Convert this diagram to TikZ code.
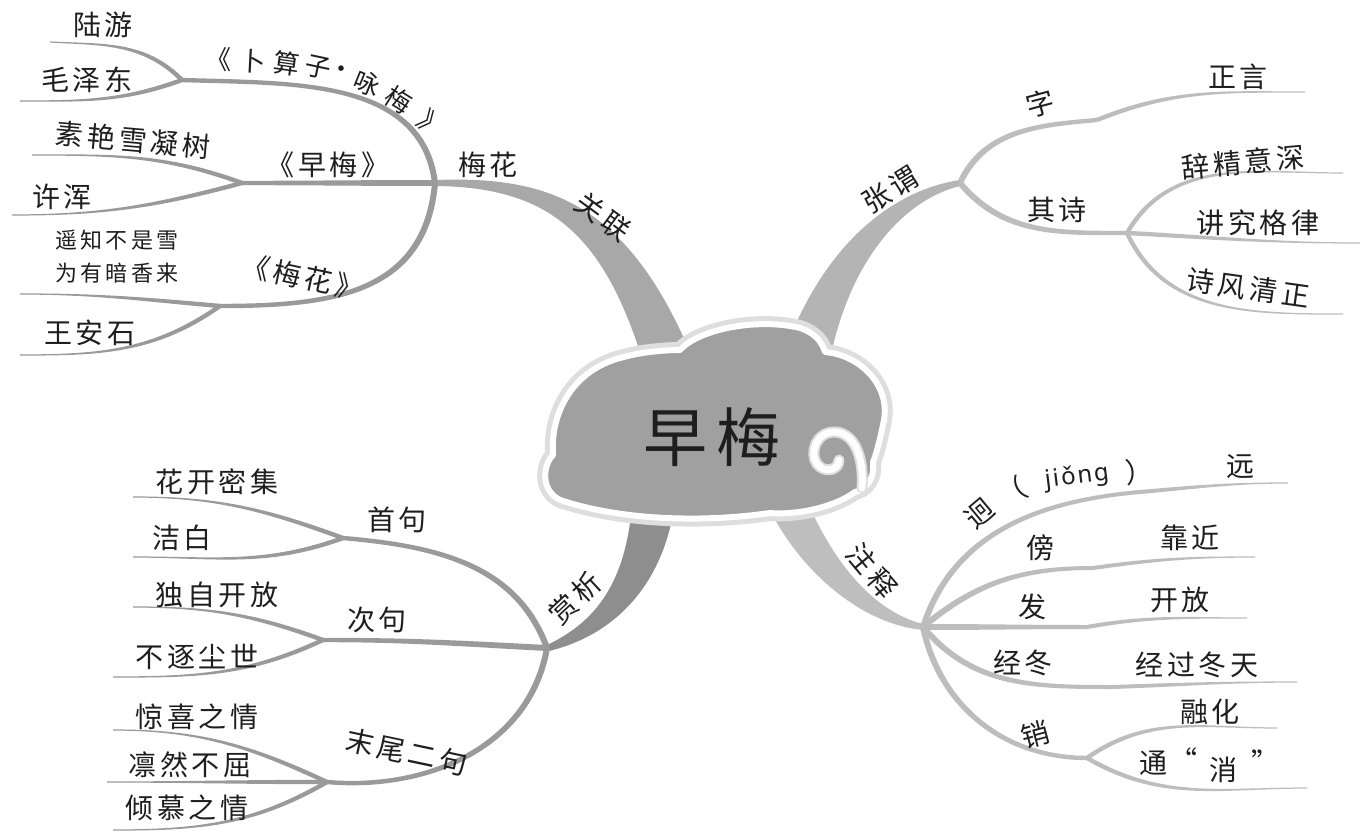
\documentclass[tikz,border=0pt]{standalone}
\usepackage{fontspec}
\setmainfont{Noto Sans CJK SC}[LetterSpace=14]
\newfontfamily\latinfont{Noto Sans}[LetterSpace=8]
\usetikzlibrary{calc}
\definecolor{lineL}{HTML}{9A9A9A}
\definecolor{lineR}{HTML}{BDBDBD}
\definecolor{brA}{HTML}{A8A8A8}
\definecolor{brB}{HTML}{B4B4B4}
\definecolor{brC}{HTML}{8E8E8E}
\definecolor{brD}{HTML}{BEBEBE}
\definecolor{cloudgray}{HTML}{A0A0A0}
\definecolor{halo}{HTML}{DEDEDE}
\definecolor{ink}{HTML}{1E1E1E}
% tapered twig: [style]{from}{to}{out}{in}{half width at from}{half width at to}
\newcommand\twig[7][lineL]{\fill[#1] ($(#2)+({#4+90}:#6pt)$) to[out=#4,in=#5] ($(#3)+({#5-90}:#7pt)$) -- ($(#3)+({#5+90}:#7pt)$) to[out=#5,in=#4] ($(#2)+({#4-90}:#6pt)$) -- cycle;}
\tikzset{
  lbl/.style={font=\fontsize{28}{30}\selectfont, text=ink, inner sep=0pt},
  lblt/.style={font=\fontsize{26}{28}\selectfont, text=ink, inner sep=0pt},
  lbls/.style={font=\fontsize{22}{24}\selectfont, text=ink, inner sep=0pt},
}
\begin{document}
\begin{tikzpicture}[x=1pt,y=1pt]
\useasboundingbox (0,0) rectangle (1363,-837);
\fill[white] (0,0) rectangle (1363,-837);

% ---------- coordinates ----------
\coordinate (hubMH) at (435,-183);
\coordinate (hubBS) at (182,-80);
\coordinate (hubZM) at (242,-183);
\coordinate (hubMHua) at (220,-306);
\coordinate (eLY) at (50,-42);
\coordinate (eMZD) at (20,-101);
\coordinate (eSY) at (32,-155);
\coordinate (eXH) at (12,-215);
\coordinate (eYZ) at (20,-294);
\coordinate (eWAS) at (20,-355);
\coordinate (hubZW) at (960,-183);
\coordinate (kZ) at (1097,-120);
\coordinate (eZY) at (1305,-92);
\coordinate (hubQS) at (1127,-233);
\coordinate (eCJ) at (1343,-173);
\coordinate (eJJ) at (1360,-243);
\coordinate (eSF) at (1343,-314);
\coordinate (hubSX) at (547,-648);
\coordinate (hubSJ) at (343,-538);
\coordinate (hubCJ) at (323,-640);
\coordinate (hubMW) at (327,-782);
\coordinate (eHK) at (133,-497);
\coordinate (eJB) at (133,-557);
\coordinate (eDZ) at (133,-607);
\coordinate (eBZ) at (113,-677);
\coordinate (eJX) at (113,-730);
\coordinate (eLR) at (107,-782);
\coordinate (eQM) at (113,-830);
\coordinate (hubZS) at (923,-627);
\coordinate (kJY) at (1140,-492);
\coordinate (eJY) at (1288,-483);
\coordinate (kBP) at (1093,-568);
\coordinate (eBP) at (1255,-557);
\coordinate (kF) at (1087,-627);
\coordinate (eF) at (1247,-618);
\coordinate (kJD) at (1113,-687);
\coordinate (eJD) at (1297,-682);
\coordinate (hubXiao) at (1087,-758);
\coordinate (eRH) at (1277,-728);
\coordinate (eTX) at (1307,-788);

% ---------- main branches ----------
\fill[brA] ($(hubMH)+(0,3)$) .. controls (545,-176) and (625,-200) .. (690,-352) -- (640,-352) .. controls (600,-230) and (545,-187) .. ($(hubMH)+(0,-3)$) -- cycle;
\fill[brB] ($(hubZW)+(0,3)$) .. controls (905,-188) and (830,-230) .. (785,-350) -- (832,-350) .. controls (855,-250) and (910,-198) .. ($(hubZW)+(0,-3)$) -- cycle;
\fill[brC] ($(hubSX)+(-2,2)$) .. controls (590,-625) and (625,-590) .. (632,-505) -- (674,-508) .. controls (662,-585) and (615,-635) .. ($(hubSX)+(2,-3)$) -- cycle;
\fill[brD] (808,-503) .. controls (835,-565) and (875,-612) .. ($(hubZS)+(0,3)$) -- ($(hubZS)+(0,-3)$) .. controls (860,-624) and (800,-570) .. (770,-510) -- cycle;

% ---------- twigs: upper left ----------
\twig{hubMH}{hubBS}{97}{-2}{3}{2.2}
\twig{hubMH}{hubZM}{180}{0}{3}{2.2}
\twig[lineL,looseness=1.15]{hubMH}{hubMHua}{-95}{0}{3}{2.2}
\twig{hubBS}{eLY}{135}{-3}{2.2}{0.6}
\twig{hubBS}{eMZD}{200}{0}{2.2}{0.6}
\twig{hubZM}{eSY}{160}{0}{2.2}{0.6}
\twig{hubZM}{eXH}{195}{0}{2.2}{0.6}
\twig{hubMHua}{eYZ}{175}{0}{2.2}{0.6}
\twig{hubMHua}{eWAS}{215}{0}{2.2}{0.6}
% ---------- upper right ----------
\twig[lineR]{hubZW}{kZ}{65}{185}{3}{2.2}
\twig[lineR]{kZ}{eZY}{22}{180}{2.2}{0.6}
\twig[lineR]{hubZW}{hubQS}{-50}{180}{3}{2.2}
\twig[lineR]{hubQS}{eCJ}{60}{180}{2.2}{0.6}
\twig[lineR]{hubQS}{eJJ}{-3}{180}{2.2}{0.6}
\twig[lineR]{hubQS}{eSF}{-65}{180}{2.2}{0.6}
% ---------- lower left ----------
\twig{hubSX}{hubSJ}{110}{-5}{3}{2.2}
\twig{hubSX}{hubCJ}{177}{0}{3}{2.2}
\twig{hubSX}{hubMW}{-100}{-5}{3}{2.2}
\twig{hubSJ}{eHK}{160}{0}{2.2}{0.6}
\twig{hubSJ}{eJB}{200}{0}{2.2}{0.6}
\twig{hubCJ}{eDZ}{160}{0}{2.2}{0.6}
\twig{hubCJ}{eBZ}{205}{0}{2.2}{0.6}
\twig{hubMW}{eJX}{155}{0}{2.2}{0.6}
\twig{hubMW}{eLR}{180}{0}{2.2}{0.6}
\twig{hubMW}{eQM}{210}{0}{2.2}{0.6}
% ---------- lower right ----------
\twig[lineR]{hubZS}{kJY}{72}{185}{3}{2}
\twig[lineR]{kJY}{eJY}{5}{180}{2}{0.6}
\twig[lineR]{hubZS}{kBP}{40}{180}{3}{2}
\twig[lineR]{kBP}{eBP}{8}{180}{2}{0.6}
\twig[lineR]{hubZS}{kF}{0}{180}{3}{2}
\twig[lineR]{kF}{eF}{10}{180}{2}{0.6}
\twig[lineR]{hubZS}{kJD}{-50}{180}{3}{2}
\twig[lineR]{kJD}{eJD}{2}{180}{2}{0.6}
\twig[lineR]{hubZS}{hubXiao}{-78}{180}{3}{2.2}
\twig[lineR]{hubXiao}{eRH}{35}{180}{2.2}{0.6}
\twig[lineR]{hubXiao}{eTX}{-30}{180}{2.2}{0.6}

% ---------- cloud ----------
\fill[cloudgray, preaction={draw=halo, line width=16, line join=round}, postaction={draw=white, line width=6, line join=round}]
  (560,-500) .. controls (540,-490) and (543,-465) .. (553,-455)
  .. controls (550,-410) and (575,-370) .. (620,-358)
  .. controls (640,-352) and (665,-350) .. (680,-350)
  .. controls (700,-328) and (760,-318) .. (800,-328)
  .. controls (815,-333) and (822,-342) .. (825,-352)
  .. controls (860,-355) and (890,-385) .. (884,-420)
  .. controls (880,-440) and (876,-455) .. (873,-462)
  .. controls (875,-480) and (865,-490) .. (855,-492)
  .. controls (830,-510) and (790,-515) .. (770,-513)
  .. controls (700,-523) and (620,-520) .. (560,-500) -- cycle;
\draw[white, line width=7, line cap=round, preaction={draw=halo, line width=11, line cap=round}]
  (862,-488) .. controls (864,-460) and (856,-434) .. (836,-432)
  .. controls (816,-431) and (809,-453) .. (817,-464)
  .. controls (825,-474) and (839,-470) .. (839,-460);
\node[font=\fontsize{64}{70}\selectfont, text=ink, inner sep=0pt] (tTitle) at (712,-437) {早梅};

% ---------- labels: upper left ----------
\node[lbl] (tLY) at (103,-25) {陆游};
\node[lbl] (tMZD) at (87,-80) {毛泽东};
\node[lblt] (bs1) at (218,-60) {《};
\node[lblt,rotate=-3] (bs2) at (253,-61) {卜};
\node[lblt,rotate=-8] (bs3) at (287,-63) {算};
\node[lblt,rotate=-12] (bs4) at (318,-67) {子};
\node[lblt] (bs5) at (341,-72) {·};
\node[lblt,rotate=-22] (bs6) at (367,-83) {咏};
\node[lblt,rotate=-32] (bs7) at (399,-100) {梅};
\node[lblt,rotate=-40] (bs8) at (432,-124) {》};
\node[lbl] (tMHh) at (488,-165) {梅花};
\node[lbl,rotate=-36] (tGL) at (603,-217) {关联};
\node[lbl] (tZMt) at (328,-165) {《早梅》};
\node[lbl,rotate=-5] (tSY) at (133,-140) {素艳雪凝树};
\node[lbl] (tXH) at (62,-197) {许浑};
\node[lbls] (tYZ1) at (117,-240) {遥知不是雪};
\node[lbls] (tYZ2) at (117,-273) {为有暗香来};
\node[lbl,rotate=-12] (tMHt) at (303,-277) {《梅花》};
\node[lbl] (tWAS) at (90,-333) {王安石};
% ---------- upper right ----------
\node[lbl,rotate=32] (tZW) at (890,-190) {张谓};
\node[lbl,rotate=15] (tZi) at (1040,-103) {字};
\node[lbl] (tZY) at (1238,-77) {正言};
\node[lbl] (tQS) at (1057,-210) {其诗};
\node[lbl,rotate=5] (tCJ) at (1243,-162) {辞精意深};
\node[lbl] (tJJ) at (1258,-223) {讲究格律};
\node[lbl,rotate=-8] (tSF) at (1248,-288) {诗风清正};
% ---------- lower left ----------
\node[lbl] (tSJ) at (397,-520) {首句};
\node[lbl] (tHK) at (217,-482) {花开密集};
\node[lbl] (tJB) at (182,-538) {洁白};
\node[lbl] (tCJu) at (377,-620) {次句};
\node[lbl] (tDZ) at (217,-595) {独自开放};
\node[lbl] (tBZ) at (197,-657) {不逐尘世};
\node[lbl] (tJX) at (197,-717) {惊喜之情};
\node[lbl] (tLR) at (190,-765) {凛然不屈};
\node[lbl] (tQM) at (187,-808) {倾慕之情};
\node[lbl,rotate=-12] (tMW) at (407,-752) {末尾二句};
\node[lbl,rotate=43] (tSX) at (575,-598) {赏析};
% ---------- lower right ----------
\node[lbl,rotate=-50] (tZS) at (872,-571) {注释};
\node[lbl,rotate=40] (tJ1) at (980,-514) {迥};
\node[lbl,rotate=30] (tJ2) at (1012,-492) {（};
\node[lbl,rotate=7,font=\latinfont\fontsize{24}{26}\selectfont] (tJ3) at (1077,-477) {jiǒng};
\node[lbl,rotate=5] (tJ4) at (1140,-472) {）};
\node[lbl] (tYuan) at (1240,-467) {远};
\node[lbl] (tBang) at (1040,-548) {傍};
\node[lbl] (tKJ) at (1190,-538) {靠近};
\node[lbl] (tFa) at (1032,-607) {发};
\node[lbl] (tKF) at (1180,-600) {开放};
\node[lbl] (tJD) at (1023,-663) {经冬};
\node[lbl] (tJGDT) at (1197,-665) {经过冬天};
\node[lbl,rotate=15] (tXiao) at (1035,-735) {销};
\node[lbl] (tRH) at (1210,-712) {融化};
\node[lbl] (tT1) at (1153,-763) {通};
\node[lbl] (tT2) at (1183,-760) {“};
\node[lbl] (tT3) at (1223,-770) {消};
\node[lbl] (tT4) at (1265,-762) {”};
\end{tikzpicture}
\end{document}
